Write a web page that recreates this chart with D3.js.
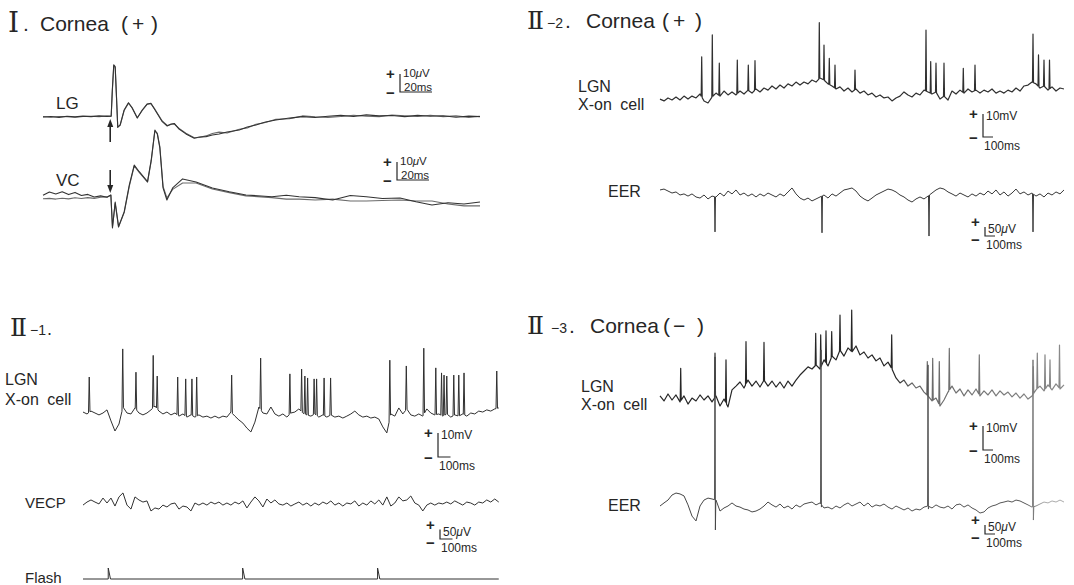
<!DOCTYPE html>
<html>
<head>
<meta charset="utf-8">
<script src="https://cdn.jsdelivr.net/npm/d3@7/dist/d3.min.js"></script>
<style>
html,body{margin:0;padding:0;background:#fff;}
svg{display:block;}
</style>
</head>
<body>
<svg id="fig" width="1074" height="585"></svg>
<script>
// ================= DATA =================
// Panel I : averaged evoked potentials (time in ms from stimulus, amplitude in µV)
const lgTime = [-42,-37,-32,-27,-22,-17,-12,-7,-2,
  0.6,1.3,2.2,3.1,4,4.7,6.2,8.7,11.4,13.7,16.9,20,23,25.4,28,32.5,35.6,38,40,43,
  47.3,52.5,55.6,59.8,63.8,68,73,80.6,85.6,91,97,103.5,112,
  120,128,136,144,152,160,168,176,184,192,200,208,216,224,231];
const lgTraceA = [0,0.3,-0.2,0.4,0.1,0.5,0.2,0.6,0.3,
  0.5,15,29,28,9.4,-5.8,-4.4,3.9,7.9,5,-0.6,3.9,7.2,7.6,3.9,-2.6,-5,-3.9,-3.6,-6.7,
  -9.4,-11.8,-11.1,-10.9,-10,-9.4,-8.3,-7.2,-5.6,-4.4,-2.8,-1.7,-0.6,
  0.2,-0.3,0.4,0.9,0.3,1.2,0.6,0.8,0.2,0.9,0.4,0.7,-0.1,0.5,0.2];
const lgTraceB = [0.2,-0.1,0.3,0.2,-0.2,0.3,0.4,0.2,0.6,
  0.4,14,28.5,27.5,9,-5.5,-4.6,3.6,7.7,5.2,-0.4,3.6,7,7.4,4.2,-2.2,-4.7,-4.2,-3.9,-6.3,
  -9,-11.5,-11.4,-10.5,-9.2,-8.4,-8.9,-6.8,-6.1,-4,-3.1,-1.3,-1,
  0.6,0.1,-0.2,0.3,1,0.4,0.2,1.1,0.7,0.3,1,0.2,0.6,-0.2,0.4];

const vcTime = [-42,-38,-34,-30,-26,-22,-18,-14,-10,-6,-2,
  0.4,1.4,3.1,5.2,8.75,11.9,15,18.1,23.3,25.6,27.9,29.4,31,33,35.4,39,45.2,53.6,63.8,74.4,
  84.8,101,110,118,128,139,150,160,170,181,191,201,211,221,231];
const vcTraceA = [1.5,3.3,2.2,3.5,1.9,3.1,1.4,2.0,0.6,1.2,0.4,
  1.7,-16.7,-2.2,-15.9,-7.6,7.2,18.3,14.6,9.1,21,37.8,35.6,27.8,5.6,-1.1,5.6,10.6,8.9,5.6,3.5,
  1.7,0.7,1.5,0.7,0.2,-1.1,1.4,0.7,-0.3,0,-2.1,-3.9,-2.6,-3.3,-2.2];
const vcTraceB = [-0.4,-0.2,-0.6,-0.1,-0.5,0.1,-0.3,0.2,-0.2,0.4,0.6,
  1.5,-16,-3,-16.2,-8,6.5,17.8,14.2,8.8,20.5,37.2,36,28.5,6.5,0,4.8,8.3,8.3,5,3,
  1.2,0.2,-0.6,-0.6,-1.1,-0.6,-1.7,-1.7,-1.4,-1.1,-1.7,-1.7,-3.3,-4.4,-4.4];

// Panel II-1 : sampled every 32 ms (LGN in mV, VECP in µV)
const ii1Step = 32;
const lgn1Base = [0.4,-0.4,0.8,0,-0.8,0,1.3,-3.3,-7.5,-4.6,
  2.5,0,-0.4,2.1,0,-0.8,0,1.3,2.9,0.8,
  -0.4,0.4,-0.8,0,-1.3,-0.4,-1.7,-0.8,-1.7,-0.8,
  -1.7,-1.3,-2.1,-1.3,-2.1,-1.3,-1.7,0.4,-1.3,-2.9,
  -4.2,-6.3,-7.9,-3.8,2.5,0,-0.4,2.5,-0.4,-1.3,
  -0.4,-1.7,0,0.4,1.7,0,-0.8,-1.3,-0.4,-1.7,
  -0.8,-1.7,-0.8,-1.7,-1.3,-2.1,-1.3,-0.4,0.8,-0.8,
  -1.7,-1.3,-2.1,-1.7,-2.5,-5.8,-8.3,-0.4,-1.3,2.1,
  -0.4,1.7,-0.8,-1.3,-0.4,-1.3,1.7,0,-0.8,-0.4,
  -1.3,-0.4,-1.7,-0.8,-1.3,-0.4,-1.3,0,-0.4,0.8,
  0.4,1.3,0.8,1.7,2.1];
const lgn1SpikeTimes = [50,318,424,562,594,758,822,872,910,1190,1422,1656,1750,1776,1798,1850,1870,1930,1982,2456,2588,2728,2824,2870,2890,2912,2968,3008,3050,3312];
const lgn1SpikePeaks = [15,26.7,17,24,15.4,15,14.2,14.2,15,15.8,22.9,16.3,18.3,15.4,14.6,14.2,14.2,14.6,14.6,22,19.6,27,18.8,16.7,15.8,15.4,15.8,15.8,16.7,17.5];
const vecpValues = [-11,5,16,5,-5,26,0,26,-16,32,
  53,-11,-32,32,16,5,11,-42,-26,-32,
  -11,-21,-5,0,-32,-16,-21,-42,0,-11,
  0,-11,5,-5,5,-11,0,-11,5,-5,
  11,-26,5,32,11,-21,21,0,16,-5,
  -11,0,-16,-5,5,-11,0,-16,0,-11,
  5,-5,11,-11,0,-16,0,-5,11,-16,
  0,-11,11,-5,16,-11,32,-16,0,32,
  11,16,37,0,-11,-42,-11,0,-11,0,
  -5,5,-5,11,0,-11,5,0,-11,5,
  0,16,5,21,5];
const flashTimes = [202,1278,2358];

// Panels II-2 / II-3 : sampled every 40 ms
const ii23Step = 40;
const lgn2Base = [0.4,-0.4,0.9,0,1.3,0,1.7,0.4,1.7,0.9,
  2.6,-0.4,-1.3,1.3,3.0,1.7,3.9,2.2,3.5,2.2,
  3.9,2.6,4.3,3.0,4.8,3.5,5.2,4.3,6.1,4.8,
  6.5,5.2,7.0,6.1,7.8,6.5,7.8,7.0,8.7,7.8,
  9.6,8.7,7.0,6.1,4.8,5.7,3.9,5.2,3.5,4.8,
  3.0,3.9,2.2,3.0,1.3,2.2,0.9,1.3,-0.4,0.9,
  1.7,3.5,2.2,1.3,3.0,2.2,4.3,3.5,2.6,3.5,
  0.4,1.7,0,3.9,2.6,4.3,3.0,4.8,3.5,4.3,
  3.0,4.3,3.5,4.8,3.0,3.9,3.0,4.3,3.5,5.2,
  3.9,6.1,6.5,7.8,7.0,5.2,6.1,4.3,5.7,3.9,
  5.2,4.8];
const lgn2SpikeTimes = [417,523,593,773,883,950,1593,1640,1693,1750,1950,2660,2707,2760,2840,3033,3150,3730,3785,3840,3895];
const lgn2SpikePeaks = [18.8,28.3,16,17.4,15.2,17.1,33.6,23.9,18.1,15.2,13,30.4,16.7,16,16,13.8,15.2,28.7,19.6,17.4,17.4];
const eer2Base = [28,33,22,11,17,0,6,-6,6,-11,
  -17,0,-22,-6,-11,11,-6,22,6,28,
  0,11,-6,6,-11,6,-6,11,0,-11,
  6,-6,17,39,6,-17,-28,-17,-33,-22,
  -11,0,-17,6,-6,11,28,33,39,22,
  -6,-22,-33,-17,0,11,22,33,28,17,
  0,-11,-28,-39,-22,-11,-22,-6,11,28,
  39,33,17,6,-6,11,0,-11,6,-6,
  11,0,22,6,28,0,17,-6,11,33,
  6,17,0,11,-6,6,-11,11,0,17,
  6,28];
const eer2ArtTimes = [550,1620,2690,3730];
const eer2ArtDepth = [-205,-210,-228,-205];

const lgn3Base = [1.7,-0.4,2.5,0,2.1,-0.8,1.7,-1.7,0.8,-0.4,
  2.1,0,1.7,-0.8,1.7,-2.5,0.4,-2.9,4.2,5.8,
  7.5,5.0,8.3,5.8,7.9,5.4,8.3,5.8,7.9,5.4,
  7.5,5.0,7.9,5.8,8.3,10.4,12.1,13.8,12.9,14.6,
  12.9,16.7,14.2,18.3,16.7,20.8,18.3,21.7,20.0,22.5,
  18.8,20.0,17.5,18.8,16.3,17.5,14.2,15.8,12.9,9.2,
  7.1,8.3,5.8,7.1,5.0,5.8,3.3,1.7,-0.4,0.8,
  -2.5,0,3.3,5.8,2.9,4.6,1.7,4.2,2.1,4.6,
  1.7,3.8,2.1,4.2,1.7,3.8,2.1,3.3,1.3,2.9,
  0.8,2.5,0.4,1.7,4.2,5.8,3.8,6.3,4.2,6.7,
  4.6,6.3];
const lgn3SpikeTimes = [207,550,660,860,1040,1557,1607,1660,1717,1800,1917,2317,2673,2727,2793,2893,3193,3733,3773,3850,3900,3995];
const lgn3SpikePeaks = [13.2,19.5,16.7,24.3,24,27.8,27.1,28.8,28.5,35.4,37.5,27.1,16,17.4,16,21.5,18.8,13.9,19.5,18.8,16.7,22.9];
const eer3Base = [0,17,33,61,72,67,56,6,-56,-83,
  0,33,44,39,33,-28,-11,0,17,0,
  -6,-17,-22,-33,-28,-17,0,22,6,-6,
  11,-11,0,-17,6,-6,11,17,22,6,
  17,-11,-6,-17,0,-11,6,17,0,11,
  22,0,17,-6,6,0,11,-6,-17,0,
  -11,-22,-11,-28,-17,-22,-6,0,-11,6,
  -6,-11,0,-17,6,11,-6,6,-11,-22,
  -39,-33,-11,0,6,17,22,28,22,33,
  28,17,6,-6,0,11,22,17,28,22,
  33,22];
const eer3ArtTimes = [550,1610,2680,3730];
const eer3ArtTop = [828,867,784,812];
const eer3ArtBottom = [-133,-6,-17,-78];

// ================= DRAWING =================
const svg = d3.select("#fig");
const SANS = '"Liberation Sans", Arial, Helvetica, sans-serif';
const SERIF = '"DejaVu Serif", "Liberation Serif", serif';
const INK = "#262626";

function interp(times, vals, t) {
  const i = d3.bisectRight(times, t);
  if (i <= 0) return vals[0];
  if (i >= times.length) return vals[vals.length - 1];
  const t0 = times[i - 1], t1 = times[i];
  return vals[i - 1] + (t - t0) / (t1 - t0) * (vals[i] - vals[i - 1]);
}
// merge a sampled baseline with brief events (spikes / artefacts)
function withEvents(times, vals, evTimes, evShapes, eps) {
  let pts = times.map((t, i) => [t, vals[i]]);
  const span = evShapes.map(s => s.length * eps);
  pts = pts.filter(p => !evTimes.some((t, k) => p[0] > t - eps && p[0] < t + span[k]));
  evTimes.forEach((t, k) => {
    pts.push([t - eps, interp(times, vals, t - eps)]);
    evShapes[k].forEach((v, j) => pts.push([t + j * eps, v]));
    pts.push([t + span[k], interp(times, vals, t + span[k])]);
  });
  pts.sort((a, b) => a[0] - b[0]);
  return pts;
}
function drawTrace(pts, xs, ys, stroke, width, opacity) {
  const line = d3.line().x(d => xs(d[0])).y(d => ys(d[1]));
  svg.append("path").attr("d", line(pts)).attr("fill", "none")
    .attr("stroke", stroke).attr("stroke-width", width)
    .attr("stroke-linejoin", "round").attr("opacity", opacity == null ? 1 : opacity);
}
function label(x, y, txt, size, opts) {
  opts = opts || {};
  const t = svg.append("text").attr("x", x).attr("y", y)
    .attr("font-family", opts.family || SANS).attr("font-size", size)
    .attr("fill", opts.fill || INK).text(txt);
  if (opts.ls != null) t.attr("letter-spacing", opts.ls);
  if (opts.ws != null) t.attr("word-spacing", opts.ws);
  if (opts.weight) t.attr("font-weight", opts.weight);
  return t;
}
// calibration bar: corner (cx,cy), lengths taken from the trace scales
function calBar(cx, cy, vLen, hLen, topTxt, botTxt, botAbove) {
  const top = cy - vLen, shortBar = vLen < 14;
  svg.append("path").attr("d", `M${cx},${top}V${cy}H${cx + hLen}`)
    .attr("fill", "none").attr("stroke", INK).attr("stroke-width", 1.2);
  label(cx - 14, shortBar ? top : top + 5, "+", 15, {weight: "bold"});
  label(cx - 14, shortBar ? cy + 9 : cy + 6, "−", 15, {weight: "bold"});
  const fs = botAbove ? 11.5 : 12;
  const tt = svg.append("text").attr("x", cx + 3).attr("y", botAbove ? top + 3 : top + 6)
    .attr("font-family", SANS).attr("font-size", fs).attr("fill", INK);
  topTxt.forEach(p => tt.append("tspan").attr("font-style", p[1] ? "italic" : null).text(p[0]));
  if (botAbove) label(cx + 4, cy - 1, botTxt, fs);
  else label(cx + 1, cy + 13, botTxt, fs);
}

// ---------- Panel I ----------
const xI = d3.scaleLinear().domain([-42, 231]).range([43, 480]);
const yLG = d3.scaleLinear().domain([0, 10]).range([117, 99]);
const yVC = d3.scaleLinear().domain([0, 10]).range([198, 180]);
drawTrace(lgTime.map((t, i) => [t, lgTraceB[i]]), xI, yLG, "#6a6a6a", 1.1);
drawTrace(lgTime.map((t, i) => [t, lgTraceA[i]]), xI, yLG, "#333", 1.1);
drawTrace(vcTime.map((t, i) => [t, vcTraceB[i]]), xI, yVC, "#6a6a6a", 1.1);
drawTrace(vcTime.map((t, i) => [t, vcTraceA[i]]), xI, yVC, "#333", 1.1);

label(8, 32, "Ⅰ", 28, {family: SERIF});
const t1 = svg.append("text").attr("font-family", SANS).attr("font-size", 21).attr("fill", INK).attr("y", 31);
t1.append("tspan").attr("x", 23).text(".");
t1.append("tspan").attr("x", 40).text("Cornea");
t1.append("tspan").attr("x", 121).text("(");
t1.append("tspan").attr("x", 132).text("+");
t1.append("tspan").attr("x", 151).text(")");
label(56, 109, "LG", 17);
label(56, 186, "VC", 17);
// stimulus arrows
const ax = xI(0);
svg.append("line").attr("x1", ax).attr("x2", ax).attr("y1", 142).attr("y2", 126).attr("stroke", INK).attr("stroke-width", 1.6);
svg.append("path").attr("d", `M${ax - 3},${127}L${ax},${119}L${ax + 3},${127}Z`).attr("fill", INK);
svg.append("line").attr("x1", ax).attr("x2", ax).attr("y1", 170).attr("y2", 186).attr("stroke", INK).attr("stroke-width", 1.6);
svg.append("path").attr("d", `M${ax - 3},${185}L${ax},${193}L${ax + 3},${185}Z`).attr("fill", INK);
calBar(400, 92, yLG(0) - yLG(10), xI(20) - xI(0), [["10"], ["μ", true], ["V"]], "20ms", true);
calBar(397, 180, yVC(0) - yVC(10), xI(20) - xI(0), [["10"], ["μ", true], ["V"]], "20ms", true);

// ---------- Panel II-1 ----------
const x21 = d3.scaleLinear().domain([0, 3330]).range([83, 499]);
const yLGN1 = d3.scaleLinear().domain([0, 10]).range([413, 389]);
const yVECP = d3.scaleLinear().domain([0, 50]).range([503, 493.5]);
const yFlash = d3.scaleLinear().domain([0, 1]).range([579, 568]);
const t21 = lgn1Base.map((v, i) => i * ii1Step);
drawTrace(withEvents(t21, lgn1Base, lgn1SpikeTimes, lgn1SpikePeaks.map(p => [p]), 6), x21, yLGN1, "#303030", 1);
drawTrace(t21.map((t, i) => [t, vecpValues[i]]), x21, yVECP, "#303030", 1);
const flashPts = [[0, 0]];
flashTimes.forEach(t => { flashPts.push([t, 0], [t, 1], [t + 18, 0]); });
flashPts.push([t21[t21.length - 1], 0]);
drawTrace(flashPts, x21, yFlash, "#303030", 1);

label(10, 336, "Ⅱ", 25, {family: SERIF});
const t11 = svg.append("text").attr("font-family", SANS).attr("fill", INK).attr("y", 335);
t11.append("tspan").attr("x", 30).attr("font-size", 14).text("−1");
t11.append("tspan").attr("x", 47).attr("font-size", 18).text(".");
label(5, 385, "LGN", 16);
label(5, 405, "X-on cell", 16, {ws: 4});
label(25, 508, "VECP", 15);
label(25, 583, "Flash", 15);
calBar(438, 457, yLGN1(0) - yLGN1(10), x21(100) - x21(0), [["10mV"]], "100ms", false);
calBar(440, 539, yVECP(0) - yVECP(50), x21(100) - x21(0), [["50"], ["μ", true], ["V"]], "100ms", false);

// ---------- Panel II-2 ----------
const x22 = d3.scaleLinear().domain([0, 4050]).range([660, 1065]);
const yLGN2 = d3.scaleLinear().domain([0, 10]).range([100, 77]);
const yEER2 = d3.scaleLinear().domain([0, 50]).range([195, 186]);
const t22 = lgn2Base.map((v, i) => i * ii23Step);
drawTrace(withEvents(t22, lgn2Base, lgn2SpikeTimes, lgn2SpikePeaks.map(p => [p]), 5), x22, yLGN2, "#303030", 1.2);
drawTrace(withEvents(t22, eer2Base, eer2ArtTimes, eer2ArtDepth.map(p => [p]), 5), x22, yEER2, "#383838", 1);

label(527, 29, "Ⅱ", 25, {family: SERIF});
const t2 = svg.append("text").attr("font-family", SANS).attr("fill", INK).attr("y", 28);
t2.append("tspan").attr("x", 547).attr("font-size", 14).text("−2");
t2.append("tspan").attr("x", 565).attr("font-size", 21).text(".");
t2.append("tspan").attr("x", 586).attr("font-size", 21).text("Cornea");
t2.append("tspan").attr("x", 662).attr("font-size", 21).text("(");
t2.append("tspan").attr("x", 673).attr("font-size", 21).text("+");
t2.append("tspan").attr("x", 695).attr("font-size", 21).text(")");
label(578, 92, "LGN", 16);
label(578, 110, "X-on cell", 16, {ws: 4});
label(608, 197, "EER", 16);
calBar(983, 137, yLGN2(0) - yLGN2(10), x22(100) - x22(0), [["10mV"]], "100ms", false);
calBar(985, 236, yEER2(0) - yEER2(50), x22(100) - x22(0), [["50"], ["μ", true], ["V"]], "100ms", false);

// ---------- Panel II-3 ----------
const x23 = d3.scaleLinear().domain([0, 4050]).range([660, 1065]);
const yLGN3 = d3.scaleLinear().domain([0, 10]).range([400, 376]);
const yEER3 = d3.scaleLinear().domain([0, 50]).range([506, 497]);
const defs = svg.append("defs");
const g1 = defs.append("linearGradient").attr("id", "fade3").attr("gradientUnits", "userSpaceOnUse")
  .attr("x1", 660).attr("x2", 1065).attr("y1", 0).attr("y2", 0);
g1.append("stop").attr("offset", 0).attr("stop-color", "#262626");
g1.append("stop").attr("offset", 0.58).attr("stop-color", "#262626");
g1.append("stop").attr("offset", 0.62).attr("stop-color", "#666");
g1.append("stop").attr("offset", 1).attr("stop-color", "#8a8a8a");
const g2 = defs.append("linearGradient").attr("id", "fadeE").attr("gradientUnits", "userSpaceOnUse")
  .attr("x1", 660).attr("x2", 1065).attr("y1", 0).attr("y2", 0);
g2.append("stop").attr("offset", 0).attr("stop-color", "#444");
g2.append("stop").attr("offset", 0.9).attr("stop-color", "#555");
g2.append("stop").attr("offset", 0.95).attr("stop-color", "#aaa");
g2.append("stop").attr("offset", 1).attr("stop-color", "#aaa");
const t23 = lgn3Base.map((v, i) => i * ii23Step);
drawTrace(withEvents(t23, lgn3Base, lgn3SpikeTimes, lgn3SpikePeaks.map(p => [p]), 5), x23, yLGN3, "url(#fade3)", 1.2);
drawTrace(withEvents(t23, eer3Base, eer3ArtTimes, eer3ArtTop.map((p, k) => [p, eer3ArtBottom[k]]), 4), x23, yEER3, "url(#fadeE)", 1);

label(527, 334, "Ⅱ", 25, {family: SERIF});
const t3 = svg.append("text").attr("font-family", SANS).attr("fill", INK).attr("y", 333);
t3.append("tspan").attr("x", 551).attr("font-size", 14).text("−3");
t3.append("tspan").attr("x", 569).attr("font-size", 21).text(".");
t3.append("tspan").attr("x", 590).attr("font-size", 21).text("Cornea");
t3.append("tspan").attr("x", 663).attr("font-size", 21).text("(");
t3.append("tspan").attr("x", 673).attr("font-size", 21).text("−");
t3.append("tspan").attr("x", 697).attr("font-size", 21).text(")");
label(581, 392, "LGN", 16);
label(581, 410, "X-on cell", 16, {ws: 4});
label(608, 511, "EER", 16);
calBar(983, 450, yLGN3(0) - yLGN3(10), x23(100) - x23(0), [["10mV"]], "100ms", false);
calBar(985, 534, yEER3(0) - yEER3(50), x23(100) - x23(0), [["50"], ["μ", true], ["V"]], "100ms", false);
</script>
</body>
</html>
